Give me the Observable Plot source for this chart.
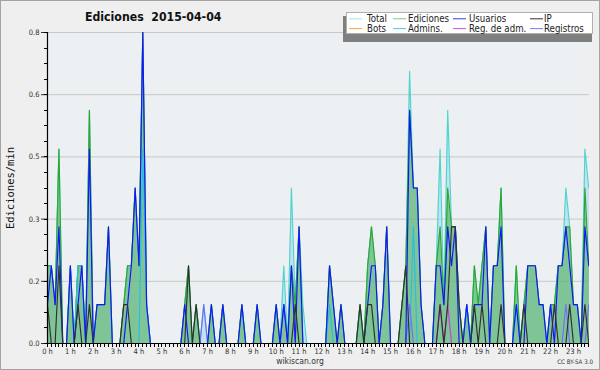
<!DOCTYPE html>
<html><head><meta charset="utf-8">
<script src="https://cdn.jsdelivr.net/npm/d3@7"></script>
<script src="https://cdn.jsdelivr.net/npm/@observablehq/plot@0.6"></script>
<style>
html,body{margin:0;padding:0;background:#efefef;}
#wrap{position:relative;width:600px;height:370px;background:#efefef;overflow:hidden;}
#wrap svg{position:absolute;left:0;top:0;font-stretch:condensed;}
#border{position:absolute;left:0;top:0;width:600px;height:370px;box-sizing:border-box;border:1px solid #a4a4a4;pointer-events:none;}
</style></head>
<body><div id="wrap"><div id="border"></div></div>
<script>
// ---- data: values per 10-minute bucket (Ediciones/min), 2015-04-04 ----
const hourLabels = ["0 h","1 h","2 h","3 h","4 h","5 h","6 h","7 h","8 h","9 h","10 h","11 h","12 h","13 h","14 h","15 h","16 h","17 h","18 h","19 h","20 h","21 h","22 h","23 h"];
const yTicks = [0, 0.16, 0.32, 0.48, 0.64, 0.8];
const yTickLabels = ["0.0","0.2","0.3","0.5","0.6","0.8"];

const total = [
 0.2,0.2,0.1,0.5,0,0, 0.2,0,0.2,0.2,0,0.6,
 0,0.1,0.1,0.1,0.3,0, 0,0,0.1,0.2,0.2,0.4,
 0.2,0.8,0.1,0,0,0, 0,0,0,0,0,0,
 0.1,0.2,0,0.1,0,0.1, 0,0.1,0,0,0.1,0,
 0,0,0,0.1,0,0, 0,0.1,0,0,0,0,
 0.1,0,0.2,0,0.4,0.1, 0.3,0.1,0,0,0,0,
 0,0,0.2,0.1,0,0.1, 0,0,0,0,0.1,0,
 0.2,0.3,0.2,0,0.1,0.3, 0,0,0,0.1,0.2,0.7,
 0.4,0.4,0.1,0,0,0, 0.2,0.5,0.1,0.6,0.3,0.3,
 0.1,0,0.1,0,0.2,0.1, 0.2,0.3,0,0.2,0.2,0.4,
 0,0,0,0.2,0,0.1, 0.2,0.2,0.2,0.1,0.1,0,
 0.1,0.1,0.2,0.2,0.4,0.3, 0.1,0.1,0,0.5,0.4,0.4];
const ediciones = [
 0.2,0.2,0.1,0.5,0,0, 0.2,0,0.2,0.2,0,0.6,
 0,0.1,0.1,0.1,0.3,0, 0,0,0.1,0.2,0.2,0.4,
 0.2,0.8,0.1,0,0,0, 0,0,0,0,0,0,
 0.1,0.2,0,0.1,0,0, 0,0.1,0,0,0.1,0,
 0,0,0,0.1,0,0, 0,0.1,0,0,0,0,
 0.1,0,0.1,0,0.2,0.1, 0.3,0,0,0,0,0,
 0,0,0.2,0.1,0,0.1, 0,0,0,0,0.1,0,
 0.2,0.3,0.2,0,0.1,0.3, 0,0,0,0.1,0.2,0.6,
 0.4,0.4,0.1,0,0,0, 0.2,0.3,0.1,0.4,0.3,0.3,
 0.1,0,0.1,0,0.2,0.1, 0.2,0.3,0,0.2,0.2,0.4,
 0,0,0,0.2,0,0.1, 0.2,0.2,0.2,0.1,0.1,0,
 0.1,0.1,0.2,0.2,0.3,0.3, 0.1,0.1,0,0.4,0.2,0.2];
const usuarios = [
 0.1,0.2,0.1,0.3,0,0, 0.2,0,0.1,0.2,0,0.5,
 0,0.1,0.1,0.1,0.3,0, 0,0,0,0.1,0.2,0.4,
 0.2,0.8,0.1,0,0,0, 0,0,0,0,0,0,
 0.1,0,0,0,0,0, 0,0.1,0,0,0.1,0,
 0,0,0,0.1,0,0, 0,0.1,0,0,0,0,
 0.1,0,0.1,0,0.2,0, 0.3,0,0,0,0,0,
 0,0,0.2,0.1,0,0.1, 0,0,0,0,0,0,
 0.1,0.2,0.2,0,0.1,0.3, 0,0,0,0,0,0.6,
 0.4,0.4,0.1,0,0,0, 0.2,0.2,0.1,0.3,0.2,0.3,
 0,0,0.1,0,0.1,0.1, 0.1,0.3,0,0.2,0.2,0.3,
 0,0,0,0.1,0,0, 0.2,0.2,0.2,0.1,0.1,0,
 0.1,0,0.2,0.2,0.3,0.2, 0.1,0.1,0,0.3,0.2,0.2];
const ip = [
 0.1,0,0,0.2,0,0, 0,0,0.1,0,0,0.1,
 0,0,0,0,0,0, 0,0,0.1,0.1,0,0,
 0,0,0,0,0,0, 0,0,0,0,0,0,
 0,0.2,0,0.1,0,0, 0,0,0,0,0,0,
 0,0,0,0,0,0, 0,0,0,0,0,0,
 0,0,0,0,0,0.1, 0,0,0,0,0,0,
 0,0,0,0,0,0, 0,0,0,0,0.1,0,
 0.1,0.1,0,0,0,0, 0,0,0,0.1,0.2,0,
 0,0,0,0,0,0, 0,0.1,0,0.1,0.3,0.3,
 0.1,0,0,0,0.1,0, 0.1,0,0,0,0,0.1,
 0,0,0,0,0,0.1, 0,0,0,0,0,0,
 0,0.1,0,0,0,0.1, 0,0,0,0.1,0,0];
const bots = [
 0,0,0,0,0,0, 0,0,0,0,0,0, 0,0,0,0,0,0, 0,0,0,0,0,0,
 0,0,0,0,0,0, 0,0,0,0,0,0, 0,0,0,0,0,0, 0,0,0,0,0,0,
 0,0,0,0,0,0, 0,0,0,0,0,0, 0,0,0,0,0,0, 0,0,0,0,0,0,
 0,0,0,0,0,0, 0,0,0,0,0,0, 0,0,0,0,0,0, 0,0,0,0,0,0,
 0,0,0,0,0,0, 0,0,0,0,0,0, 0,0,0,0,0,0, 0,0,0,0,0,0,
 0,0,0,0,0,0, 0,0,0,0,0,0, 0,0,0,0,0,0, 0,0,0,0,0,0];
const admins = [
 0,0,0,0,0,0, 0,0,0.2,0.2,0,0, 0,0,0,0,0,0, 0,0,0,0,0,0,
 0,0.5,0.1,0,0,0, 0,0,0,0,0,0, 0,0,0,0,0,0, 0,0,0,0,0,0,
 0,0,0,0,0,0, 0,0,0,0,0,0, 0,0,0,0,0,0, 0,0,0,0,0,0,
 0,0,0.1,0,0,0, 0,0,0,0,0,0, 0,0,0,0,0,0, 0,0,0,0,0,0,
 0.3,0,0,0,0,0, 0,0,0,0,0,0, 0,0,0.1,0,0,0, 0,0,0,0,0,0,
 0,0,0,0.1,0,0, 0,0,0,0,0,0, 0,0,0,0,0,0, 0,0,0,0,0,0];
const regAdm = [
 0,0,0,0,0,0, 0,0,0,0,0,0, 0,0,0,0,0,0, 0,0,0,0,0,0,
 0,0,0,0,0,0, 0,0,0,0,0,0, 0,0,0,0,0,0, 0,0,0,0,0,0,
 0,0,0,0,0,0, 0,0,0,0,0,0, 0,0,0,0,0,0, 0,0,0,0,0,0,
 0,0,0,0,0,0, 0,0,0,0,0,0, 0,0,0,0,0,0, 0,0,0,0,0,0,
 0,0,0,0,0,0, 0,0.1,0,0.1,0,0, 0,0,0,0,0,0, 0,0,0,0,0,0,
 0,0,0,0,0,0, 0,0,0,0,0,0, 0,0,0,0,0,0, 0,0,0,0,0,0];
const registros = [
 0,0,0,0,0,0, 0,0,0,0,0,0, 0,0,0,0,0,0, 0,0,0,0,0,0,
 0,0,0,0,0,0, 0,0,0,0,0,0, 0,0,0,0,0,0.1, 0,0,0,0,0,0,
 0,0,0,0,0,0, 0,0,0,0,0,0, 0,0,0.1,0,0,0, 0,0,0,0,0,0,
 0,0,0,0,0,0, 0,0,0,0,0,0, 0,0,0,0,0,0, 0,0,0,0,0,0.1,
 0,0,0,0,0,0, 0,0,0,0,0,0, 0,0,0,0,0,0, 0,0,0,0,0,0,
 0,0,0,0,0,0, 0,0,0,0,0,0, 0,0,0,0,0.1,0, 0,0,0,0,0.1,0.1];

const legendLabels = ["Total","Ediciones","Usuarios","IP","Bots","Admins.","Reg. de adm.","Registros"];
const colors = {
  "Total":"#4dd5cc","Ediciones":"#2ea52e","Usuarios":"#1414ff","IP":"#303030",
  "Bots":"#ff9a2e","Admins.":"#29bde0","Reg. de adm.":"#c83cd8","Registros":"#6f6fff"
};
const legendColors = {
  "Total":"#a8e6e2","Ediciones":"#7ccc7c","Usuarios":"#3a3aee","IP":"#303030",
  "Bots":"#ffa040","Admins.":"#50c8e0","Reg. de adm.":"#d050e0","Registros":"#7a7aff"
};
const seriesValues = {
  "Total":total,"Ediciones":ediciones,"Usuarios":usuarios,"IP":ip,
  "Bots":bots,"Admins.":admins,"Reg. de adm.":regAdm,"Registros":registros
};
// ---------------------------------------------------------------

const X = (d,i) => i;
const lineOrder = ["Total","Ediciones","Bots","Admins.","Reg. de adm.","Registros","Usuarios","IP"];

const chart = Plot.plot({
  width: 600, height: 370,
  marginLeft: 47, marginRight: 11, marginTop: 32, marginBottom: 27,
  style: {background: "transparent", fontFamily: "DejaVu Sans", fontSize: "7.5px", color: "#333", overflow: "visible"},
  x: {domain: [0, 142.2], ticks: hourLabels.map((h,k) => k*6), tickFormat: i => hourLabels[i/6], tickSize: 0, tickPadding: 5, label: null},
  y: {domain: [0, 0.8], ticks: yTicks, tickFormat: d => yTickLabels[yTicks.indexOf(d)], tickSize: 6, tickPadding: 2, label: null},
  marks: [
    Plot.frame({fill: "#edf0f2", stroke: null}),
    Plot.ruleY(yTicks.slice(1), {stroke: "#c8c8c8", strokeWidth: 1}),
    Plot.areaY(total, {x: X, y: d => d, fill: "#a9d6f2", fillOpacity: 0.6, clip: true}),
    Plot.areaY(ediciones, {x: X, y: d => d, fill: "#3aa83a", fillOpacity: 0.5, clip: true}),
    ...lineOrder.map(k => Plot.lineY(seriesValues[k], {x: X, y: d => d, stroke: colors[k], strokeWidth: 1.15, clip: true})),
    Plot.ruleY([0], {stroke: "#000", strokeWidth: 1.2}),
    Plot.ruleX([0], {stroke: "#000", strokeWidth: 1.2})
  ]
});
document.getElementById("wrap").appendChild(chart);

const svg = d3.select(chart);
const xs = chart.scale("x"), ys = chart.scale("y");
const y0 = ys.apply(0), x0 = xs.apply(0);
// minor ticks
const gT = svg.append("g").attr("stroke", "#000").attr("stroke-width", 1);
d3.range(0, 143).forEach(i => {
  const px = Math.round(xs.apply(i)) + 0.5;
  gT.append("line").attr("x1", px).attr("x2", px).attr("y1", y0).attr("y2", y0 + 4);
});
d3.range(0, 21).forEach(k => {
  const py = Math.round(ys.apply(k * 0.04)) + 0.5;
  gT.append("line").attr("x1", x0 - 3).attr("x2", x0).attr("y1", py).attr("y2", py);
});

// texts
const gTxt = svg.append("g").attr("text-anchor", "start");
gTxt.append("text").attr("x", 85).attr("y", 21)
  .attr("font-family", "DejaVu Sans").attr("font-weight", "bold").attr("font-size", 12.2)
  .attr("fill", "#111").text("Ediciones  2015-04-04").style("white-space", "pre");
gTxt.append("text").attr("transform", "translate(10,188) rotate(-90)")
  .attr("text-anchor", "middle").attr("dominant-baseline", "central")
  .attr("font-family", "DejaVu Sans Mono").attr("font-size", 10.5).attr("fill", "#111")
  .style("font-stretch", "normal").text("Ediciones/min");
gTxt.append("text").attr("x", 300).attr("y", 364).attr("text-anchor", "middle")
  .attr("font-family", "DejaVu Sans").attr("font-size", 8.5).attr("fill", "#333").text("wikiscan.org");
gTxt.append("text").attr("x", 593).attr("y", 364).attr("text-anchor", "end")
  .attr("font-family", "DejaVu Sans").attr("font-size", 6.2).attr("fill", "#333").text("CC BY-SA 3.0");

// legend
const lg = svg.append("g").attr("text-anchor", "start");
lg.append("rect").attr("x", 343).attr("y", 16).attr("width", 249).attr("height", 26).attr("fill", "#7f7f7f");
lg.append("rect").attr("x", 346.5).attr("y", 12.5).attr("width", 246).attr("height", 21).attr("fill", "#fff").attr("stroke", "#b0b0b0");
const colSw = [349, 393, 453, 530], colTx = [367, 408, 469, 544], rowY = [18.8, 28.6];
legendLabels.forEach((name, k) => {
  const c = k % 4, r = Math.floor(k / 4);
  lg.append("line").attr("x1", colSw[c]).attr("x2", colSw[c] + 13).attr("y1", rowY[r]).attr("y2", rowY[r])
    .attr("stroke", legendColors[name]).attr("stroke-width", 1);
  lg.append("text").attr("x", colTx[c]).attr("y", rowY[r]).attr("dominant-baseline", "central")
    .attr("font-family", "DejaVu Sans").attr("font-size", 9.6).attr("fill", "#222").text(name);
});
</script>
</body></html>
